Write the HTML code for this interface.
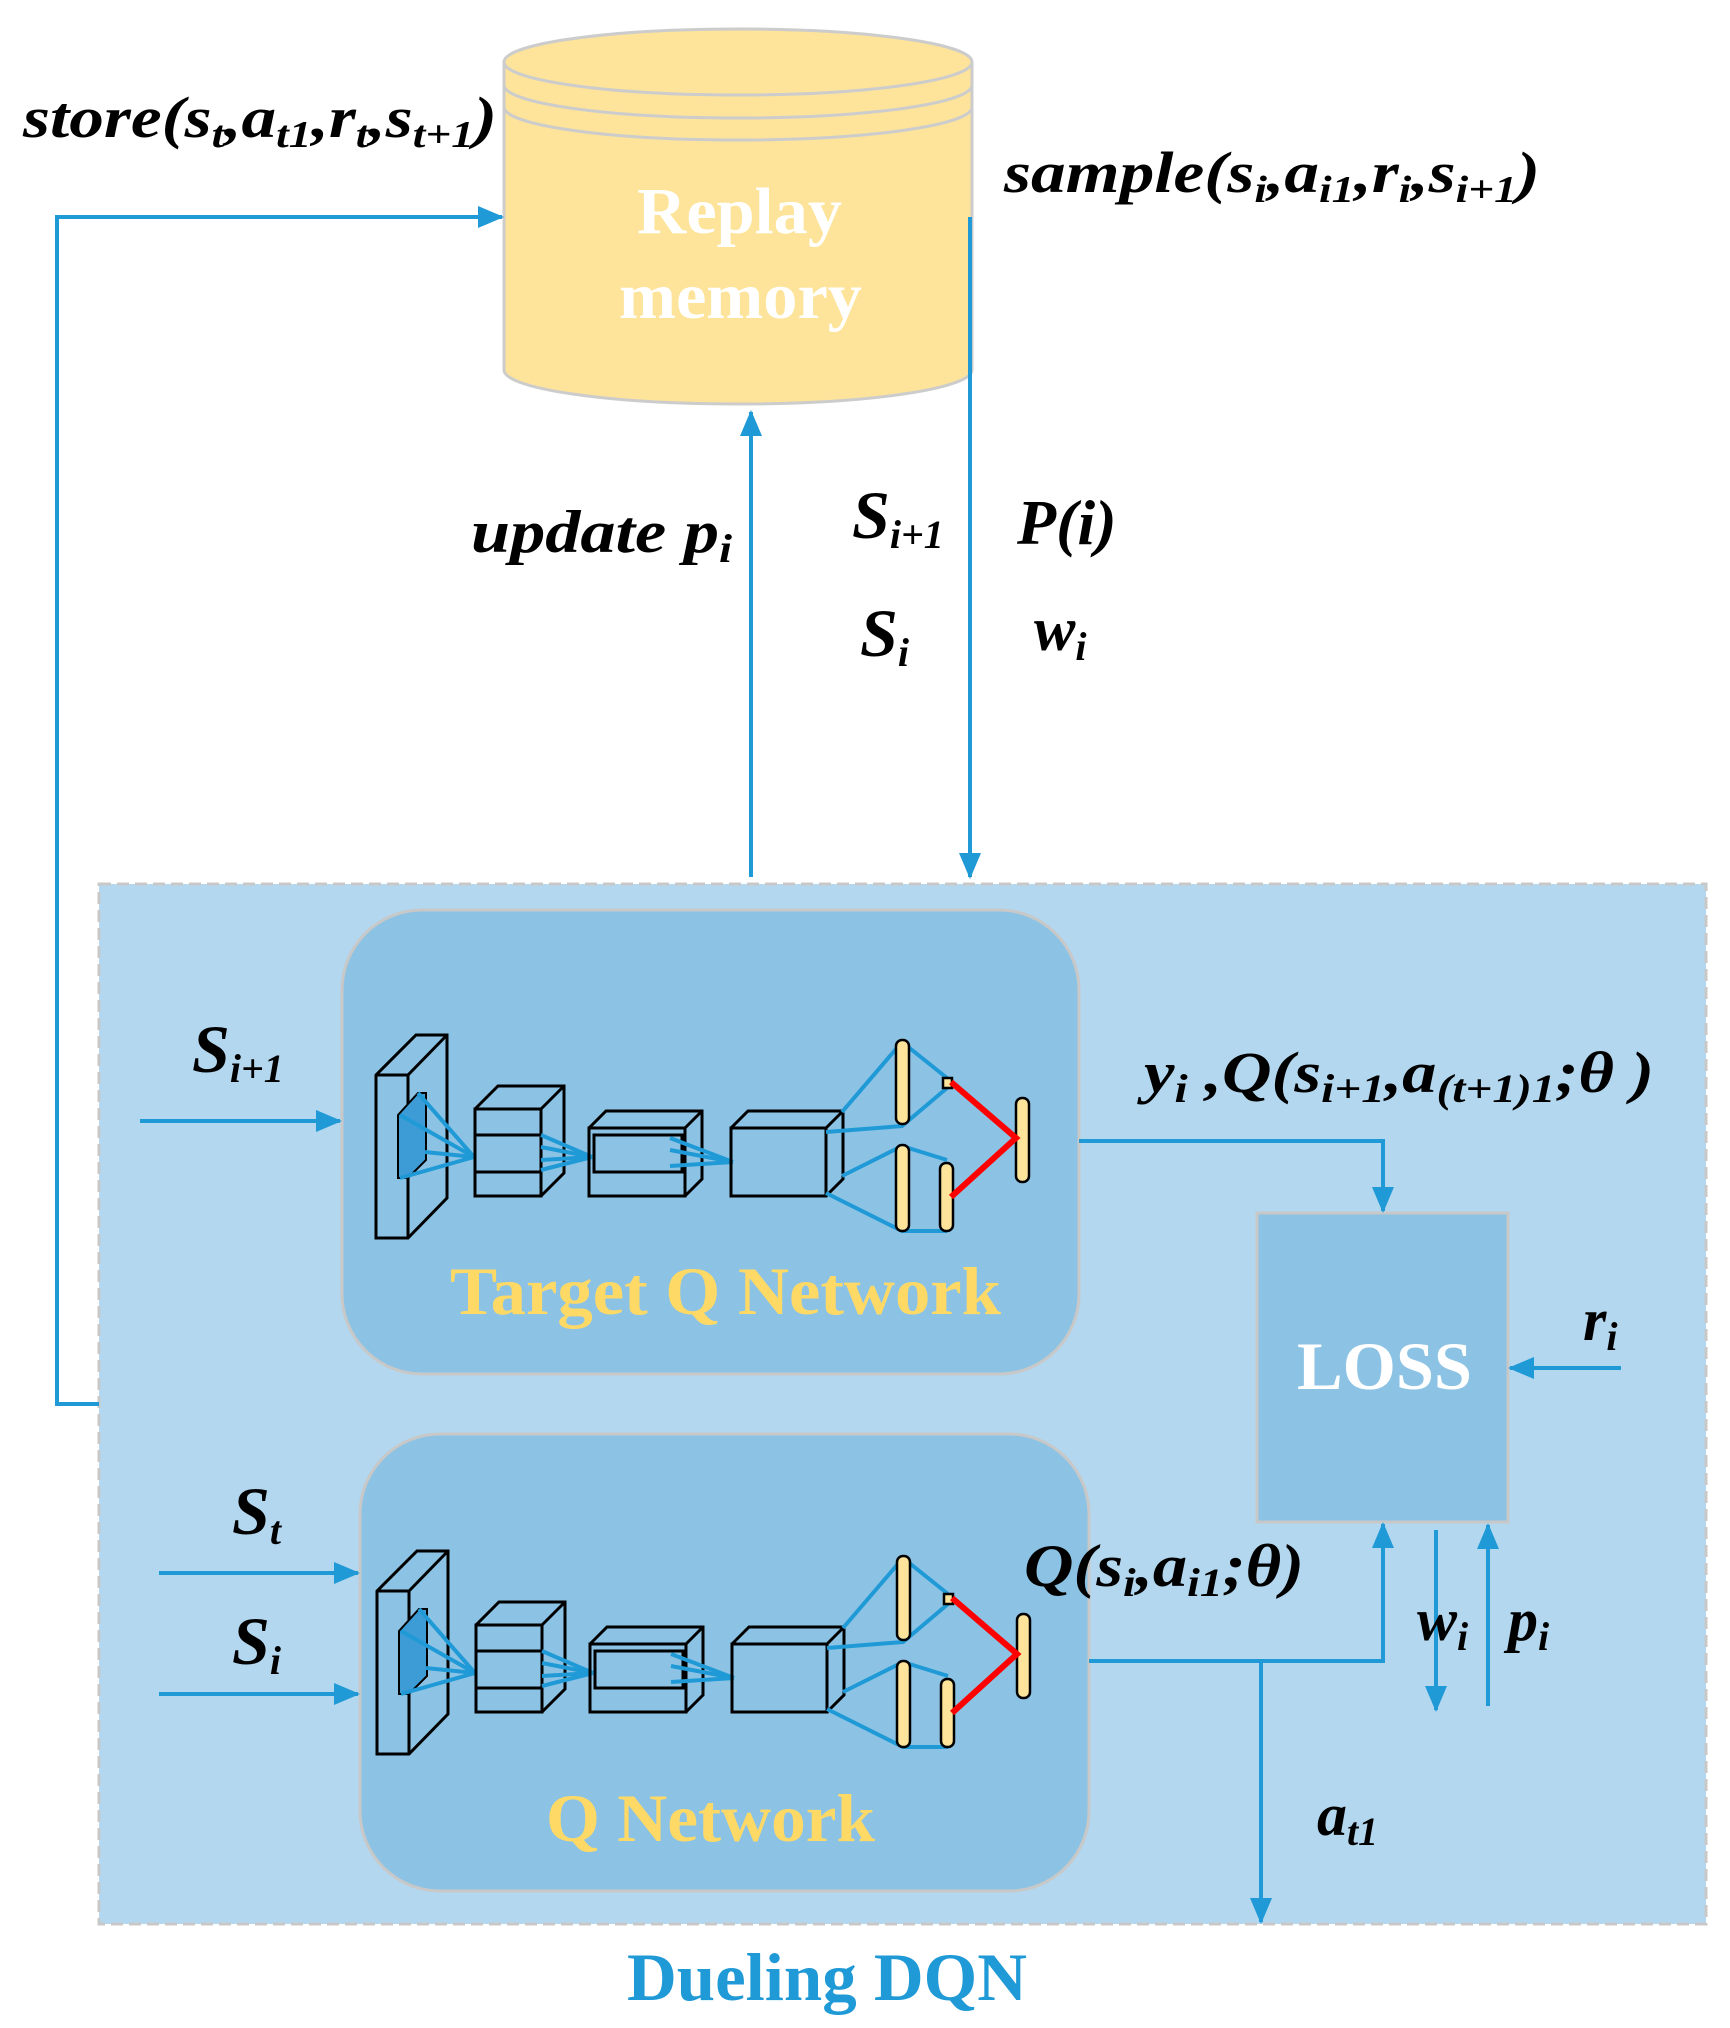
<!DOCTYPE html>
<html><head><meta charset="utf-8"><style>
html,body{margin:0;padding:0;background:#fff;}
svg{display:block;}
text{font-family:"Liberation Serif",serif;font-weight:bold;}
.it{font-style:italic;fill:#000;}
</style></head><body>
<svg width="1730" height="2028" viewBox="0 0 1730 2028" xmlns="http://www.w3.org/2000/svg">
<defs>
<marker id="ahb" markerWidth="26" markerHeight="26" refX="24" refY="13" orient="auto" markerUnits="userSpaceOnUse" viewBox="0 0 26 26">
<path d="M0,2 L26,13 L0,24 z" fill="#1f9ad6"/></marker>
<g id="net">
 <path d="M376,1075 L416,1035 L447,1035 L447,1198 L408,1238 L376,1238 Z" fill="none" stroke="#000" stroke-width="3"/>
 <path d="M376,1075 H408 V1238 M408,1075 L447,1035" fill="none" stroke="#000" stroke-width="3"/>
 <path d="M398,1115 L418,1093 L426,1093 L426,1160 L408,1178 L398,1178 Z" fill="#3d9bd6" stroke="#000" stroke-width="2"/>
 <g stroke="#1f9ad6" stroke-width="4">
  <line x1="400" y1="1115" x2="474" y2="1157"/><line x1="418" y1="1093" x2="474" y2="1157"/>
  <line x1="400" y1="1178" x2="474" y2="1157"/><line x1="425" y1="1152" x2="474" y2="1157"/>
 </g>
 <g fill="none" stroke="#000" stroke-width="3">
  <rect x="475" y="1109" width="66" height="87"/>
  <path d="M475,1109 L498,1086 H564 V1173 L541,1196 M541,1109 L564,1086"/>
  <line x1="475" y1="1135" x2="541" y2="1135"/><line x1="475" y1="1172" x2="541" y2="1172"/>
 </g>
 <g stroke="#1f9ad6" stroke-width="4">
  <line x1="541" y1="1135" x2="592" y2="1157"/><line x1="541" y1="1147" x2="592" y2="1157"/>
  <line x1="541" y1="1160" x2="592" y2="1157"/><line x1="541" y1="1170" x2="592" y2="1157"/>
 </g>
 <g fill="none" stroke="#000" stroke-width="3">
  <rect x="589" y="1128" width="96" height="68"/>
  <path d="M589,1128 L606,1111 H702 V1179 L685,1196 M685,1128 L702,1111"/>
  <rect x="594" y="1135" width="88" height="37"/>
 </g>
 <g stroke="#1f9ad6" stroke-width="4">
  <line x1="670" y1="1138" x2="733" y2="1162"/><line x1="670" y1="1150" x2="733" y2="1162"/>
  <line x1="670" y1="1166" x2="733" y2="1162"/>
 </g>
 <g fill="none" stroke="#000" stroke-width="3">
  <rect x="731" y="1128" width="95" height="68"/>
  <path d="M731,1128 L748,1111 H843 V1179 L826,1196 M826,1128 L843,1111"/>
 </g>
 <g fill="none" stroke="#1f9ad6" stroke-width="4">
  <polyline points="842,1112 902,1042 947,1078"/>
  <polyline points="826,1132 902,1126 947,1088"/>
  <polyline points="842,1176 902,1146 947,1160"/>
  <polyline points="826,1193 902,1231 947,1231"/>
 </g>
 <g fill="#fde49a" stroke="#000" stroke-width="2.5">
  <rect x="896" y="1040" width="13" height="84" rx="6"/>
  <rect x="896" y="1145" width="13" height="86" rx="6"/>
  <rect x="940" y="1163" width="13" height="68" rx="6"/>
  <rect x="1016" y="1098" width="13" height="84" rx="6"/>
  <rect x="943" y="1078" width="9" height="10"/>
 </g>
 <polyline points="951,1082 1016,1138 951,1197" fill="none" stroke="#f00" stroke-width="6"/>
</g>
</defs>

<path d="M504,62 V370 A234,34 0 0 0 972,370 V62" fill="#fde49a" stroke="#ccc" stroke-width="3"/>
<ellipse cx="738" cy="62" rx="234" ry="33" fill="#fde49a" stroke="#ccc" stroke-width="3"/>
<path d="M504,85 A234,33 0 0 0 972,85 M504,107 A234,33 0 0 0 972,107" fill="none" stroke="#ccc" stroke-width="3"/>
<text x="637" y="233" font-size="66" fill="#fff" textLength="205" lengthAdjust="spacingAndGlyphs">Replay</text>
<text x="619" y="318" font-size="66" fill="#fff" textLength="243" lengthAdjust="spacingAndGlyphs">memory</text>

<rect x="99" y="884" width="1607" height="1040" fill="#b3d7ee" stroke="#c8c8c8" stroke-width="3" stroke-dasharray="12,6"/>
<rect x="342" y="910" width="737" height="464" rx="80" fill="#8cc3e4" stroke="#c8c8c8" stroke-width="3"/>
<rect x="360" y="1434" width="729" height="457" rx="80" fill="#8cc3e4" stroke="#c8c8c8" stroke-width="3"/>
<rect x="1257" y="1213" width="251" height="309" fill="#8cc3e4" stroke="#c8c8c8" stroke-width="3"/>

<use href="#net"/>
<use href="#net" transform="translate(1,516)"/>

<text x="450" y="1314" font-size="68" fill="#ffd966" textLength="551" lengthAdjust="spacingAndGlyphs">Target Q Network</text>
<text x="546" y="1841" font-size="68" fill="#ffd966" textLength="329" lengthAdjust="spacingAndGlyphs">Q Network</text>
<text x="1297" y="1389" font-size="68" fill="#fff" textLength="175" lengthAdjust="spacingAndGlyphs">LOSS</text>
<text x="627" y="2000" font-size="68" fill="#1f9ad6" textLength="400" lengthAdjust="spacingAndGlyphs">Dueling DQN</text>

<g fill="none" stroke="#1f9ad6" stroke-width="4">
 <polyline points="99,1404 57,1404 57,217 502,217" marker-end="url(#ahb)"/>
 <line x1="751" y1="877" x2="751" y2="412" marker-end="url(#ahb)"/>
 <line x1="970" y1="217" x2="970" y2="877" marker-end="url(#ahb)"/>
 <line x1="140" y1="1121" x2="340" y2="1121" marker-end="url(#ahb)"/>
 <line x1="159" y1="1573" x2="358" y2="1573" marker-end="url(#ahb)"/>
 <line x1="159" y1="1694" x2="358" y2="1694" marker-end="url(#ahb)"/>
 <polyline points="1079,1141 1383,1141 1383,1211" marker-end="url(#ahb)"/>
 <polyline points="1089,1661 1383,1661 1383,1524" marker-end="url(#ahb)"/>
 <line x1="1261" y1="1661" x2="1261" y2="1922" marker-end="url(#ahb)"/>
 <line x1="1436" y1="1530" x2="1436" y2="1710" marker-end="url(#ahb)"/>
 <line x1="1488" y1="1706" x2="1488" y2="1525" marker-end="url(#ahb)"/>
 <line x1="1621" y1="1368" x2="1510" y2="1368" marker-end="url(#ahb)"/>
</g>

<text class="it" x="23" y="137" font-size="58" textLength="474" lengthAdjust="spacingAndGlyphs">store(s<tspan font-size="38" dy="10">t</tspan><tspan dy="-10">,a</tspan><tspan font-size="38" dy="10">t1</tspan><tspan dy="-10">,r</tspan><tspan font-size="38" dy="10">t</tspan><tspan dy="-10">,s</tspan><tspan font-size="38" dy="10">t+1</tspan><tspan dy="-10">)</tspan></text>
<text class="it" x="1004" y="192" font-size="58" textLength="536" lengthAdjust="spacingAndGlyphs">sample(s<tspan font-size="38" dy="10">i</tspan><tspan dy="-10">,a</tspan><tspan font-size="38" dy="10">i1</tspan><tspan dy="-10">,r</tspan><tspan font-size="38" dy="10">i</tspan><tspan dy="-10">,s</tspan><tspan font-size="38" dy="10">i+1</tspan><tspan dy="-10">)</tspan></text>
<text class="it" x="471" y="552" font-size="60" textLength="261" lengthAdjust="spacingAndGlyphs">update p<tspan font-size="40" dy="10">i</tspan></text>
<text class="it" x="852" y="538" font-size="68">S<tspan font-size="40" dy="10">i+1</tspan></text>
<text class="it" x="1017" y="544" font-size="64">P(i)</text>
<text class="it" x="860" y="656" font-size="68">S<tspan font-size="40" dy="10">i</tspan></text>
<text class="it" x="1034" y="650" font-size="62">w<tspan font-size="40" dy="10">i</tspan></text>
<text class="it" x="192" y="1072" font-size="68">S<tspan font-size="40" dy="10">i+1</tspan></text>
<text class="it" x="232" y="1534" font-size="68">S<tspan font-size="40" dy="10">t</tspan></text>
<text class="it" x="232" y="1664" font-size="68">S<tspan font-size="40" dy="10">i</tspan></text>
<text class="it" x="1144" y="1092" font-size="58" textLength="510" lengthAdjust="spacingAndGlyphs">y<tspan font-size="40" dy="10">i</tspan><tspan dy="-10"> ,Q(s</tspan><tspan font-size="40" dy="10">i+1</tspan><tspan dy="-10">,a</tspan><tspan font-size="40" dy="10">(t+1)1</tspan><tspan dy="-10">;θ )</tspan></text>
<text class="it" x="1024" y="1586" font-size="60" textLength="280" lengthAdjust="spacingAndGlyphs">Q(s<tspan font-size="40" dy="10">i</tspan><tspan dy="-10">,a</tspan><tspan font-size="40" dy="10">i1</tspan><tspan dy="-10">;θ)</tspan></text>
<text class="it" x="1417" y="1640" font-size="60">w<tspan font-size="40" dy="10">i</tspan></text>
<text class="it" x="1508" y="1640" font-size="60">p<tspan font-size="40" dy="10">i</tspan></text>
<text class="it" x="1583" y="1340" font-size="60">r<tspan font-size="40" dy="10">i</tspan></text>
<text class="it" x="1317" y="1835" font-size="60">a<tspan font-size="40" dy="10">t1</tspan></text>
</svg>
</body></html>
